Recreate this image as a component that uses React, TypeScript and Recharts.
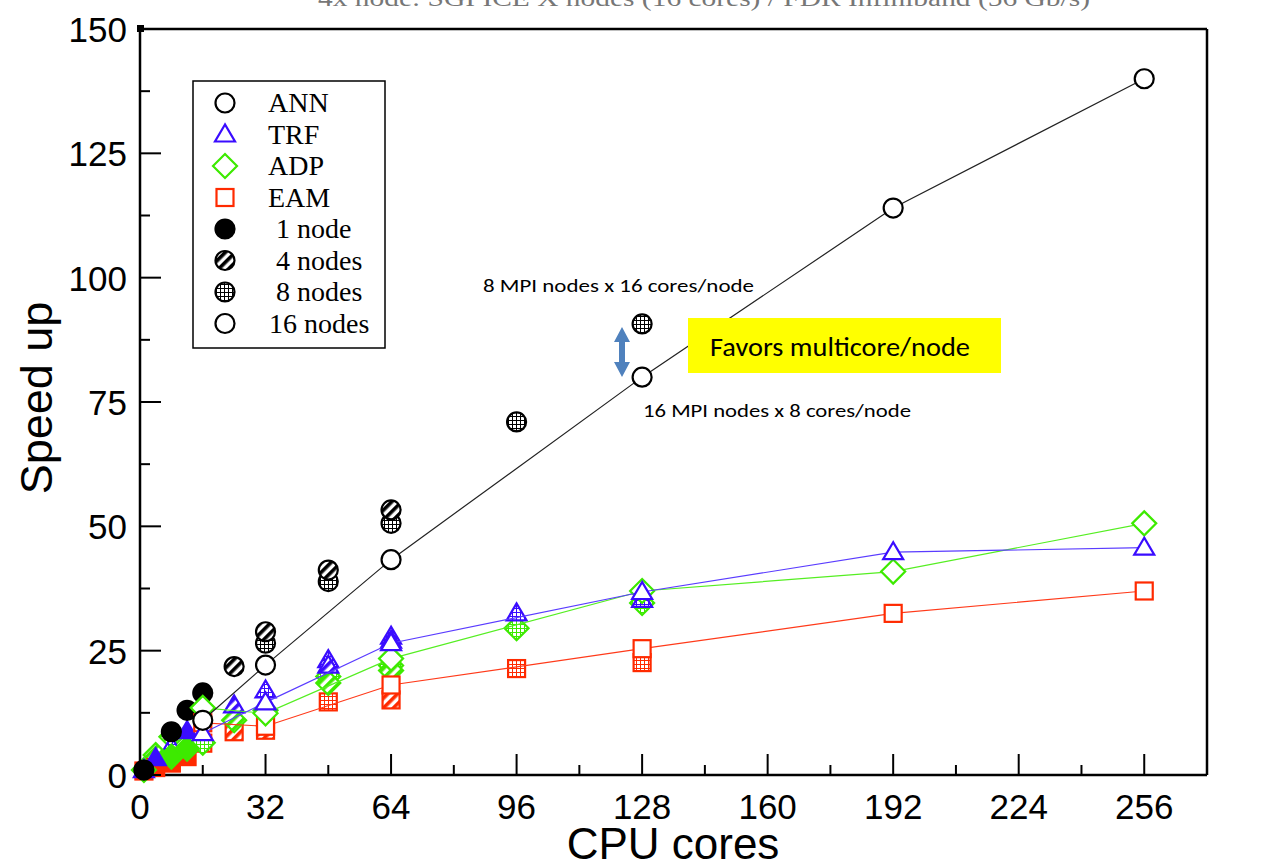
import React from 'react'
import { ScatterChart, Scatter, XAxis, YAxis } from 'recharts'

// [cores, speed up]
// ANN (black circles)
const ANN_1NODE = [[1, 1], [8, 8.7], [12, 13], [16, 16.5]]
const ANN_4NODES = [[24, 21.8], [32, 28.8], [48, 41.2], [64, 53.3]]
const ANN_8NODES = [[32, 26.5], [48, 38.9], [64, 50.6], [96, 71], [128, 90.7]]
const ANN_16NODES = [[16, 11], [32, 22.1], [64, 43.3], [128, 80], [192, 114], [256, 140]]

// TRF (blue triangles)
const TRF_1NODE = [[1, 1], [4, 3.4], [12, 8.8]]
const TRF_4NODES = [[4, 2.7], [24, 14], [48, 22], [64, 27]]
const TRF_8NODES = [[8, 5.7], [32, 17], [48, 23.1], [64, 27.8], [96, 32.5], [128, 35.2]]
const TRF_16NODES = [[16, 8.4], [32, 14.6], [64, 26.5], [128, 36.8], [192, 44.8], [256, 45.7]]

// ADP (green diamonds)
const ADP_1NODE = [[1, 1], [8, 3.7], [12, 5.3]]
const ADP_4NODES = [[4, 4], [24, 11], [48, 18.5], [64, 21]]
const ADP_8NODES = [[8, 7.7], [16, 6.5], [32, 13], [48, 19.8], [64, 22], [96, 29.5], [128, 34.6]]
const ADP_16NODES = [[16, 13.5], [32, 12.4], [64, 23.4], [128, 37], [192, 40.9], [256, 50.6]]

// EAM (red squares)
const EAM_1NODE = [[1, 0.8], [4, 1.5], [8, 2.4], [12, 3.7]]
const EAM_4NODES = [[24, 8.7], [32, 9], [64, 15.1]]
const EAM_8NODES = [[16, 6.4], [48, 14.7], [96, 21.4], [128, 22.6]]
const EAM_16NODES = [[16, 10.5], [32, 9.8], [64, 18.1], [128, 25.4], [192, 32.5], [256, 37]]

const X_TICKS = [0, 16, 32, 48, 64, 80, 96, 112, 128, 144, 160, 176, 192, 208, 224, 240, 256, 272]
const Y_TICKS = [0, 12.5, 25, 37.5, 50, 62.5, 75, 87.5, 100, 112.5, 125, 137.5, 150]

const LEGEND_ITEMS = ['ANN', 'TRF', 'ADP', 'EAM', '1 node', '4 nodes', '8 nodes', '16 nodes']

const W = 1285
const H = 862
const PLOT = { left: 140, right: 1207, top: 29, bottom: 775 }

const K = '#000000'
const BLUE = '#3a0cff'
const GREEN = '#3dea00'
const RED = '#ff2a00'
const LINE_COLORS: Record<string, string> = {
  [K]: '#222222',
  [BLUE]: '#5a3cff',
  [GREEN]: '#55ee22',
  [RED]: '#ff3a1a'
}
const COLOR_KEYS: Record<string, string> = { [K]: 'k', [BLUE]: 'b', [GREEN]: 'g', [RED]: 'r' }

type Kind = 'circle' | 'triangle' | 'diamond' | 'square'
type Fill = 'open' | 'solid' | 'hatch' | 'grid'

const fillFor = (fill: Fill, color: string) => {
  if (fill === 'open') return '#fff'
  if (fill === 'solid') return color
  return `url(#${fill}-${COLOR_KEYS[color]})`
}

const Marker = ({ cx, cy, kind, color, fill }: { cx: number; cy: number; kind: Kind; color: string; fill: Fill }) => {
  const f = fillFor(fill, color)
  const sw = 2.2
  if (kind === 'circle') return <circle cx={cx} cy={cy} r={9.5} fill={f} stroke={color} strokeWidth={sw} />
  if (kind === 'triangle') {
    const pts = `${cx},${cy - 10} ${cx - 10},${cy + 7} ${cx + 10},${cy + 7}`
    return <polygon points={pts} fill={f} stroke={color} strokeWidth={sw} />
  }
  if (kind === 'diamond') {
    const pts = `${cx},${cy - 12} ${cx + 12},${cy} ${cx},${cy + 12} ${cx - 12},${cy}`
    return <polygon points={pts} fill={f} stroke={color} strokeWidth={sw} />
  }
  return <rect x={cx - 8.5} y={cy - 8.5} width={17} height={17} fill={f} stroke={color} strokeWidth={sw} />
}

const toPoints = (arr: number[][]) => arr.map(([x, y]) => ({ x, y }))

const SERIES: { name: string; data: number[][]; kind: Kind; color: string; fill: Fill }[] = [
  { name: 'EAM 8', data: EAM_8NODES, kind: 'square', color: RED, fill: 'grid' },
  { name: 'ADP 8', data: ADP_8NODES, kind: 'diamond', color: GREEN, fill: 'grid' },
  { name: 'TRF 8', data: TRF_8NODES, kind: 'triangle', color: BLUE, fill: 'grid' },
  { name: 'ANN 8', data: ANN_8NODES, kind: 'circle', color: K, fill: 'grid' },
  { name: 'EAM 4', data: EAM_4NODES, kind: 'square', color: RED, fill: 'hatch' },
  { name: 'ADP 4', data: ADP_4NODES, kind: 'diamond', color: GREEN, fill: 'hatch' },
  { name: 'TRF 4', data: TRF_4NODES, kind: 'triangle', color: BLUE, fill: 'hatch' },
  { name: 'ANN 4', data: ANN_4NODES, kind: 'circle', color: K, fill: 'hatch' },
  { name: 'EAM 1', data: EAM_1NODE, kind: 'square', color: RED, fill: 'solid' },
  { name: 'ADP 1', data: ADP_1NODE, kind: 'diamond', color: GREEN, fill: 'solid' },
  { name: 'TRF 1', data: TRF_1NODE, kind: 'triangle', color: BLUE, fill: 'solid' },
  { name: 'ANN 1', data: ANN_1NODE, kind: 'circle', color: K, fill: 'solid' },
  { name: 'EAM', data: EAM_16NODES, kind: 'square', color: RED, fill: 'open' },
  { name: 'ADP', data: ADP_16NODES, kind: 'diamond', color: GREEN, fill: 'open' },
  { name: 'TRF', data: TRF_16NODES, kind: 'triangle', color: BLUE, fill: 'open' },
  { name: 'ANN', data: ANN_16NODES, kind: 'circle', color: K, fill: 'open' }
]

const helv = "'Liberation Sans', Arial, sans-serif"
const serif = "'Liberation Serif', 'Times New Roman', serif"
const calibri = "Carlito, Lato, 'Open Sans', sans-serif"

const tickFont: React.CSSProperties = {
  fontFamily: helv,
  fontSize: 35,
  fill: '#000'
}

const BottomTick = (p: any) => {
  const v = p.payload.value
  const major = v % 32 === 0
  return (
    <g>
      <line x1={p.x} x2={p.x} y1={PLOT.bottom} y2={PLOT.bottom - (major ? 21 : 10)} stroke="#000" strokeWidth={2} />
      {major && (
        <text x={p.x} y={PLOT.bottom + 44} textAnchor="middle" style={tickFont}>
          {v}
        </text>
      )}
    </g>
  )
}

const TopTick = (p: any) => {
  const v = p.payload.value
  const major = v % 32 === 0
  return <line x1={p.x} x2={p.x} y1={PLOT.top} y2={PLOT.top + (major ? 21 : 10)} stroke="#000" strokeWidth={2} />
}

const LeftTick = (p: any) => {
  const v = p.payload.value
  const major = v % 25 === 0
  const corner = v === 0 || v === 150
  return (
    <g>
      <line x1={PLOT.left} x2={PLOT.left + (major ? 21 : 10)} y1={p.y} y2={p.y} stroke="#000" strokeWidth={2} />
      {corner && <rect x={PLOT.left - 3} y={p.y - 4} width={7} height={7} fill="#000" />}
      {major && (
        <text x={127} y={p.y + 13} textAnchor="end" style={tickFont}>
          {v}
        </text>
      )}
    </g>
  )
}

const RightTick = (p: any) => {
  const v = p.payload.value
  const major = v % 25 === 0
  const corner = v === 0 || v === 150
  return (
    <g>
      <line x1={PLOT.right} x2={PLOT.right - (major ? 21 : 10)} y1={p.y} y2={p.y} stroke="#000" strokeWidth={2} />
      {corner && <rect x={PLOT.right - 4} y={p.y - 4} width={7} height={7} fill="#000" />}
      {major && (
        <text x={1213} y={p.y + 13} textAnchor="start" style={tickFont}>
          {v}
        </text>
      )}
    </g>
  )
}

const Patterns = () => (
  <defs>
    {[K, BLUE, GREEN, RED].map(c => (
      <React.Fragment key={c}>
        <pattern id={`hatch-${COLOR_KEYS[c]}`} patternUnits="userSpaceOnUse" width={7} height={7} patternTransform="rotate(45)">
          <rect width={7} height={7} fill="#fff" />
          <rect width={3.6} height={7} fill={c} />
        </pattern>
        <pattern id={`grid-${COLOR_KEYS[c]}`} patternUnits="userSpaceOnUse" width={4} height={4}>
          <rect width={4} height={4} fill="#fff" />
          <path d="M0 0.5H4M0.5 0V4" stroke={c} strokeWidth={1} />
        </pattern>
      </React.Fragment>
    ))}
  </defs>
)

const legendMarkers: { kind: Kind; color: string; fill: Fill }[] = [
  { kind: 'circle', color: K, fill: 'open' },
  { kind: 'triangle', color: BLUE, fill: 'open' },
  { kind: 'diamond', color: GREEN, fill: 'open' },
  { kind: 'square', color: RED, fill: 'open' },
  { kind: 'circle', color: K, fill: 'solid' },
  { kind: 'circle', color: K, fill: 'hatch' },
  { kind: 'circle', color: K, fill: 'grid' },
  { kind: 'circle', color: K, fill: 'open' }
]

const Overlay = () => (
  <svg width={W} height={H} style={{ position: 'absolute', left: 0, top: 0, pointerEvents: 'none' }}>
    <Patterns />
    {/* header, clipped by the top edge as in the source image */}
    <text x={318} y={6} textLength={772} lengthAdjust="spacingAndGlyphs" style={{ fontFamily: serif, fontSize: 24, fill: '#777' }}>
      4x node: SGI ICE X nodes (16 cores) / FDR Infiniband (56 Gb/s)
    </text>

    {/* legend */}
    <rect x={193} y={81} width={192} height={267} fill="#fff" stroke="#000" strokeWidth={1.5} />
    {LEGEND_ITEMS.map((label, i) => {
      const y = 103 + i * 31.5
      const m = legendMarkers[i]
      const tx = i >= 4 && i <= 6 ? 276 : i === 7 ? 269 : 268
      return (
        <g key={label}>
          <Marker cx={225} cy={y} kind={m.kind} color={m.color} fill={m.fill} />
          <text x={tx} y={y + 9} style={{ fontFamily: serif, fontSize: 28, fill: '#000' }}>
            {label}
          </text>
        </g>
      )
    })}

    {/* annotations */}
    <text x={483} y={292} textLength={271} lengthAdjust="spacingAndGlyphs" style={{ fontFamily: calibri, fontSize: 19, fill: '#000' }}>
      8 MPI nodes x 16 cores/node
    </text>
    <text x={643} y={417} textLength={268} lengthAdjust="spacingAndGlyphs" style={{ fontFamily: calibri, fontSize: 19, fill: '#000' }}>
      16 MPI nodes x 8 cores/node
    </text>
    <rect x={688} y={318} width={313} height={55} fill="#ffff00" />
    <text x={710} y={356} textLength={260} lengthAdjust="spacingAndGlyphs" style={{ fontFamily: calibri, fontSize: 27, fill: '#000' }}>
      Favors multicore/node
    </text>
    <polygon
      points="622,327 630,342 625,342 625,362 630,362 622,377 614,362 619,362 619,342 614,342"
      fill="#4f81bd"
    />

    {/* axis titles */}
    <text x={673} y={859} textAnchor="middle" style={{ fontFamily: helv, fontSize: 44, fill: '#000' }}>
      CPU cores
    </text>
    <text
      x={0}
      y={0}
      transform="translate(52,398) rotate(-90)"
      textAnchor="middle"
      style={{ fontFamily: helv, fontSize: 45, fill: '#000' }}
    >
      Speed up
    </text>
  </svg>
)

export default function App() {
  return (
    <div style={{ position: 'relative', width: W, height: H, background: '#fff' }}>
      <style>{'body{margin:0}'}</style>
      <ScatterChart width={W} height={H} margin={{ top: 19, right: 18, bottom: 27, left: 80 }}>
        <XAxis
          xAxisId={0}
          dataKey="x"
          type="number"
          domain={[0, 272]}
          ticks={X_TICKS}
          interval={0}
          height={60}
          axisLine={{ stroke: '#000', strokeWidth: 2.5 }}
          tickLine={false}
          tick={<BottomTick />}
        />
        <XAxis
          xAxisId="top"
          orientation="top"
          type="number"
          domain={[0, 272]}
          ticks={X_TICKS}
          interval={0}
          height={10}
          axisLine={{ stroke: '#000', strokeWidth: 2.5 }}
          tickLine={false}
          tick={<TopTick />}
        />
        <YAxis
          yAxisId={0}
          dataKey="y"
          type="number"
          domain={[0, 150]}
          ticks={Y_TICKS}
          interval={0}
          width={60}
          axisLine={{ stroke: '#000', strokeWidth: 2.5 }}
          tickLine={false}
          tick={<LeftTick />}
        />
        <YAxis
          yAxisId="right"
          orientation="right"
          type="number"
          domain={[0, 150]}
          ticks={Y_TICKS}
          interval={0}
          width={60}
          axisLine={{ stroke: '#000', strokeWidth: 2.5 }}
          tickLine={false}
          tick={<RightTick />}
        />
        {SERIES.map(s => (
          <Scatter
            key={s.name}
            name={s.name}
            data={toPoints(s.data)}
            xAxisId={0}
            yAxisId={0}
            isAnimationActive={false}
            line={s.fill === 'open' ? { stroke: LINE_COLORS[s.color], strokeWidth: 1.2 } : false}
            lineType="joint"
            shape={(props: any) => <Marker cx={props.cx} cy={props.cy} kind={s.kind} color={s.color} fill={s.fill} />}
          />
        ))}
      </ScatterChart>
      <Overlay />
    </div>
  )
}
